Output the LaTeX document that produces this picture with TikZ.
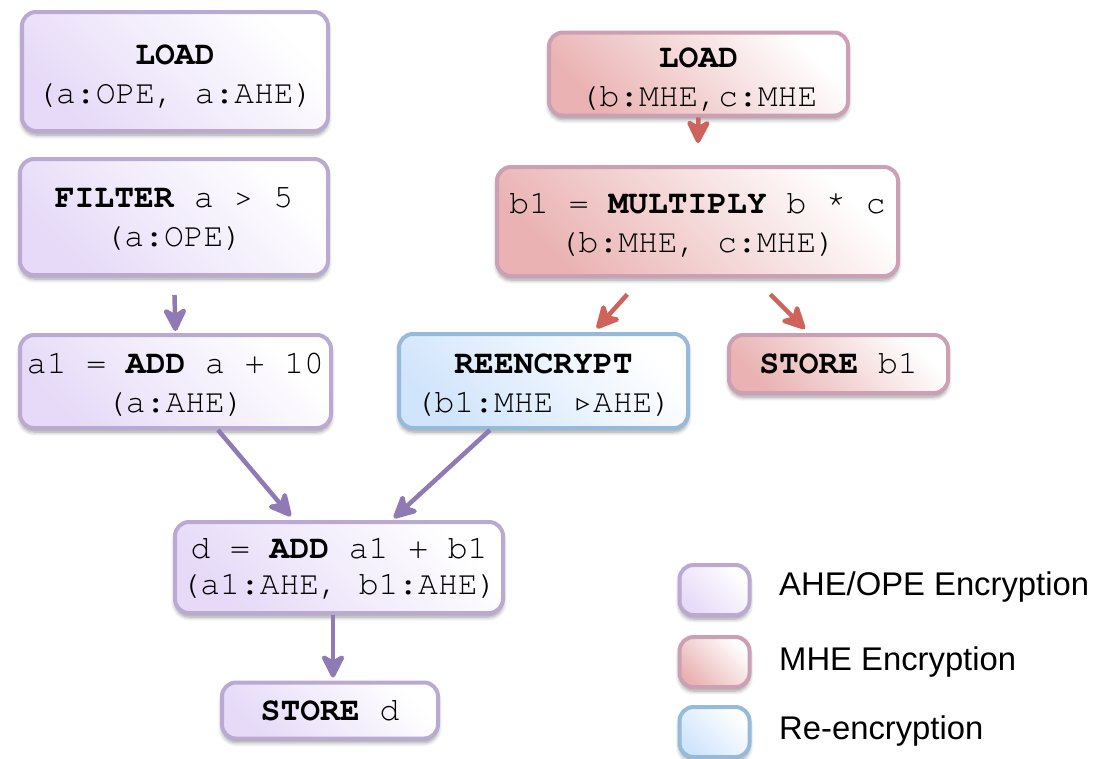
\documentclass[tikz,border=0pt]{standalone}
\usepackage{fontspec}
\setmainfont{Liberation Sans}
\setsansfont{Liberation Sans}
\setmonofont{texgyrecursor}[Extension=.otf, UprightFont=*-regular, BoldFont=*-bold]
\newfontfamily\symfont{DejaVu Sans}
\usetikzlibrary{arrows.meta,shadows.blur}

\definecolor{pborder}{RGB}{186,170,210}
\definecolor{pfill}{RGB}{230,218,248}
\definecolor{parrowc}{RGB}{143,122,182}
\definecolor{rborder}{RGB}{204,160,180}
\definecolor{rfill}{RGB}{234,178,178}
\definecolor{rarrowc}{RGB}{207,98,90}
\definecolor{bborder}{RGB}{150,186,218}
\definecolor{bfill}{RGB}{208,228,252}

\tikzset{
  opbox/.style={rounded corners=14pt, line width=4pt, inner sep=0pt, align=center,
    font=\ttfamily\fontsize{33}{39}\selectfont, text=black,
    blur shadow={shadow xshift=0pt, shadow yshift=-4pt, shadow blur radius=4pt,
      shadow blur steps=6, shadow opacity=40}},
  ahe/.style={opbox, draw=pborder, bottom color=pfill, top color=white, shading angle=-45},
  mhe/.style={opbox, draw=rborder, bottom color=rfill, top color=white, shading angle=-45},
  reb/.style={opbox, draw=bborder, bottom color=bfill, top color=white, shading angle=-45},
  parrow/.style={draw=parrowc, line width=4.5pt,
    arrows={-Stealth[length=28pt, width=28pt, inset=8pt, round]}},
  rarrow/.style={draw=rarrowc, line width=4.5pt,
    arrows={-Stealth[length=28pt, width=28pt, inset=8pt, round]}},
  legtext/.style={anchor=west, inner sep=0pt, font=\sffamily\fontsize{32.8}{38}\selectfont}
}

% taller first line, to set two-line labels a little lower in their boxes
\newcommand{\fl}[1][27pt]{\rule{0pt}{#1}}
\newcommand{\optri}{\makebox[19.8pt]{\raisebox{1pt}{\symfont\fontsize{26}{26}\selectfont ▹}}}

\begin{document}
\begin{tikzpicture}[x=1pt, y=-1pt]
\useasboundingbox (0,0) rectangle (1098,758);

% left branch
\node[ahe, minimum width=306pt, minimum height=119pt] (loada) at (175,71.5)
  {\fl[29pt]\textbf{LOAD}\\(a:OPE, a:AHE)};
\node[ahe, minimum width=308pt, minimum height=116pt] (filter) at (174,217)
  {\fl[25pt]\textbf{FILTER} a > 5\\(a:OPE)};
\node[ahe, minimum width=311pt, minimum height=93pt] (a1) at (175.5,381.5)
  {\fl a1 = \textbf{ADD} a + 10\\(a:AHE)};

% right branch
\node[mhe, minimum width=299pt, minimum height=83pt] (loadb) at (698.5,74)
  {\fl[31pt]\textbf{LOAD}\\ (b:MHE,c:MHE};
\node[mhe, minimum width=401pt, minimum height=109pt] (mult) at (697.5,221.5)
  {\fl b1 = \textbf{MULTIPLY} b * c\\(b:MHE, c:MHE)};
\node[reb, minimum width=289pt, minimum height=94pt] (reenc) at (543.5,381)
  {\fl[29pt]\textbf{REENCRYPT}\\(b1:MHE \optri AHE)};
\node[mhe, minimum width=219pt, minimum height=58pt] (storeb) at (838.5,364)
  {\textbf{STORE} b1};

% merge
\node[ahe, minimum width=328pt, minimum height=91pt, font=\ttfamily\fontsize{33}{36}\selectfont] (dadd) at (339,567.5)
  {\fl[23pt]d = \textbf{ADD} a1 + b1\\(a1:AHE, b1:AHE)};
\node[ahe, minimum width=216pt, minimum height=56pt] (stored) at (330,710.5)
  {\textbf{STORE} d};

% connectors
\draw[parrow, shorten <=18pt, shorten >=2pt] (filter.south) -- (a1.north);
\draw[rarrow, shorten <=0pt, shorten >=22pt] (loadb.south) -- (mult.north);
\draw[rarrow, shorten <=22pt, shorten >=5pt] ([xshift=-55.5pt]mult.south) -- ([xshift=50pt]reenc.north);
\draw[rarrow, shorten <=23pt, shorten >=6pt] ([xshift=56.5pt]mult.south) -- ([xshift=-29.5pt]storeb.north);
\draw[parrow, shorten >=5pt] ([xshift=42.5pt]a1.south) -- ([xshift=-45pt]dadd.north);
\draw[parrow, shorten >=3pt] ([xshift=-53.5pt]reenc.south) -- ([xshift=52.7pt]dadd.north);
\draw[parrow, shorten >=3pt] ([xshift=-6pt]dadd.south) -- ([xshift=3pt]stored.north);

% legend
\node[ahe, minimum width=70pt, minimum height=50pt] (lg1) at (714.5,590) {};
\node[mhe, minimum width=70pt, minimum height=50pt] (lg2) at (714.5,662) {};
\node[reb, minimum width=70pt, minimum height=50pt] (lg3) at (714.5,732) {};
\node[legtext] (lt1) at (779,587) {AHE/OPE Encryption};
\node[legtext] (lt2) at (779,662) {MHE Encryption};
\node[legtext] (lt3) at (779,731) {Re-encryption};
\end{tikzpicture}
\end{document}
